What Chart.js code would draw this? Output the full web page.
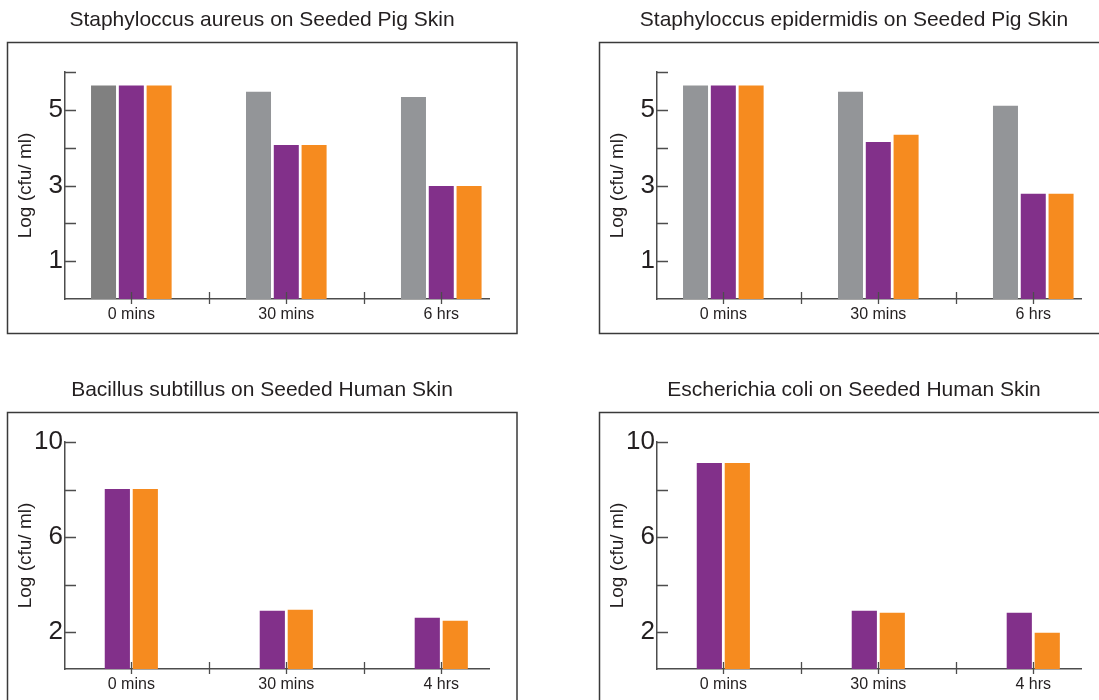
<!DOCTYPE html>
<html>
<head>
<meta charset="utf-8">
<script src="https://cdn.jsdelivr.net/npm/chart.js@4.4.1/dist/chart.umd.min.js"></script>
<style>
  html, body { margin: 0; padding: 0; background: #fff; width: 1099px; height: 700px; overflow: hidden; }
  .panel { position: absolute; width: 524px; height: 350px; }
</style>
</head>
<body>
<div class="panel" style="left:0;top:0"><canvas id="aureus" width="524" height="350"></canvas></div>
<div class="panel" style="left:592px;top:0"><canvas id="epidermidis" width="524" height="350"></canvas></div>
<div class="panel" style="left:0;top:370px"><canvas id="bacillus" width="524" height="350"></canvas></div>
<div class="panel" style="left:592px;top:370px"><canvas id="coli" width="524" height="350"></canvas></div>

<script>
// time points
const pigTimes = ['0 mins', '30 mins', '6 hrs'];
const humanTimes = ['0 mins', '30 mins', '4 hrs'];

// Log (cfu/ml)
const aureusControl = [5.64, 5.48, 5.34];
const aureusPurple = [5.64, 4.07, 2.99];
const aureusOrange = [5.64, 4.07, 2.99];

const epiControl = [5.64, 5.48, 5.11];
const epiPurple = [5.64, 4.15, 2.78];
const epiOrange = [5.64, 4.34, 2.78];

const bacillusPurple = [8.02, 2.90, 2.60];
const bacillusOrange = [8.02, 2.94, 2.48];

const coliPurple = [9.12, 2.90, 2.81];
const coliOrange = [9.12, 2.81, 1.97];

// y axis ticks
const pigTicks = [1, 2, 3, 4, 5, 6];
const pigTickLabels = [1, 3, 5];
const humanTicks = [2, 4, 6, 8, 10];
const humanTickLabels = [2, 6, 10];

const FONT = "'Liberation Sans', Arial, Helvetica, sans-serif";
const TEXT = '#231f20';
const AXIS = '#4d4d4d';
const GREY = '#939598';
const GREY_DARK = '#808080';
const PURPLE = '#82308a';
const ORANGE = '#f68b1f';

// frame around each panel + tick marks drawn the way the original has them
const axisDecor = {
  id: 'axisDecor',
  beforeDraw(chart) {
    const ctx = chart.ctx;
    ctx.save();
    ctx.strokeStyle = '#3a3a3a';
    ctx.lineWidth = 1.5;
    ctx.strokeRect(7.5, 42.5, 509.5, 291);
    ctx.restore();
  },
  afterDraw(chart) {
    const { x, y } = chart.scales;
    const ctx = chart.ctx;
    const n = chart.data.datasets[0].data.length;
    ctx.save();
    ctx.strokeStyle = AXIS;
    ctx.lineWidth = 1.3;
    ctx.beginPath();
    y.ticks.forEach(t => {
      const py = Math.round(y.getPixelForValue(t.value)) + 0.5;
      ctx.moveTo(x.left, py);
      ctx.lineTo(x.left + 11, py);
    });
    // a mark under each time point and one between neighbours
    for (let i = 0; i <= n - 1; i += 0.5) {
      const px = Math.round(x.getPixelForValue(i)) + 0.5;
      ctx.moveTo(px, y.bottom - 7);
      ctx.lineTo(px, y.bottom + 5);
    }
    ctx.stroke();
    ctx.restore();
  }
};

function points(values) {
  return values.map((v, i) => ({ x: i, y: v }));
}

function makeChart(id, title, times, datasets, yMin, yMax, ticks, tickLabels) {
  const catPct = datasets.length === 3 ? 0.538 : 0.361;
  new Chart(document.getElementById(id), {
    type: 'bar',
    data: {
      datasets: datasets.map(d => ({
        label: d.label,
        data: points(d.values),
        backgroundColor: d.color,
        borderWidth: 0,
        categoryPercentage: catPct,
        barPercentage: 0.9
      }))
    },
    plugins: [axisDecor],
    options: {
      responsive: false,
      animation: false,
      devicePixelRatio: 1,
      layout: { padding: { left: 35, right: 35, top: 0, bottom: 11 } },
      plugins: {
        legend: { display: false },
        tooltip: { enabled: false },
        title: {
          display: true,
          text: title,
          color: TEXT,
          font: { family: FONT, size: 21, weight: 'normal' },
          padding: { top: 8, bottom: 38.8 }
        }
      },
      scales: {
        x: {
          type: 'linear',
          min: -0.428,
          max: 2.308,
          offset: false,
          z: 1,
          grid: { display: false, drawTicks: false, offset: false },
          border: { display: true, color: AXIS, width: 1.5 },
          afterBuildTicks: s => { s.ticks = times.map((t, i) => ({ value: i })); },
          afterFit: s => { s.height = 40; },
          ticks: {
            autoSkip: false,
            maxRotation: 0,
            padding: 6,
            color: TEXT,
            font: { family: FONT, size: 16 },
            callback: (v, i) => times[i]
          }
        },
        y: {
          min: yMin,
          max: yMax,
          z: 1,
          grid: { display: false, drawTicks: false },
          border: { display: true, color: AXIS, width: 1.5 },
          afterBuildTicks: s => { s.ticks = ticks.map(v => ({ value: v })); },
          afterFit: s => { s.width = 30; },
          ticks: {
            padding: 2,
            color: TEXT,
            font: { family: FONT, size: 26 },
            callback: v => tickLabels.includes(v) ? String(v) : ''
          },
          title: {
            display: true,
            text: 'Log (cfu/ ml)',
            color: TEXT,
            font: { family: FONT, size: 19 },
            padding: { top: -20.4, bottom: 0 }
          }
        }
      }
    }
  });
}

makeChart('aureus', 'Staphyloccus aureus on Seeded Pig Skin', pigTimes, [
  { label: 'Control', values: aureusControl, color: [GREY_DARK, GREY, GREY] },
  { label: 'Purple', values: aureusPurple, color: PURPLE },
  { label: 'Orange', values: aureusOrange, color: ORANGE }
], 0, 6, pigTicks, pigTickLabels);

makeChart('epidermidis', 'Staphyloccus epidermidis on Seeded Pig Skin', pigTimes, [
  { label: 'Control', values: epiControl, color: GREY },
  { label: 'Purple', values: epiPurple, color: PURPLE },
  { label: 'Orange', values: epiOrange, color: ORANGE }
], 0, 6, pigTicks, pigTickLabels);

makeChart('bacillus', 'Bacillus subtillus on Seeded Human Skin', humanTimes, [
  { label: 'Purple', values: bacillusPurple, color: PURPLE },
  { label: 'Orange', values: bacillusOrange, color: ORANGE }
], 0.445, 10, humanTicks, humanTickLabels);

makeChart('coli', 'Escherichia coli on Seeded Human Skin', humanTimes, [
  { label: 'Purple', values: coliPurple, color: PURPLE },
  { label: 'Orange', values: coliOrange, color: ORANGE }
], 0.445, 10, humanTicks, humanTickLabels);
</script>
</body>
</html>
